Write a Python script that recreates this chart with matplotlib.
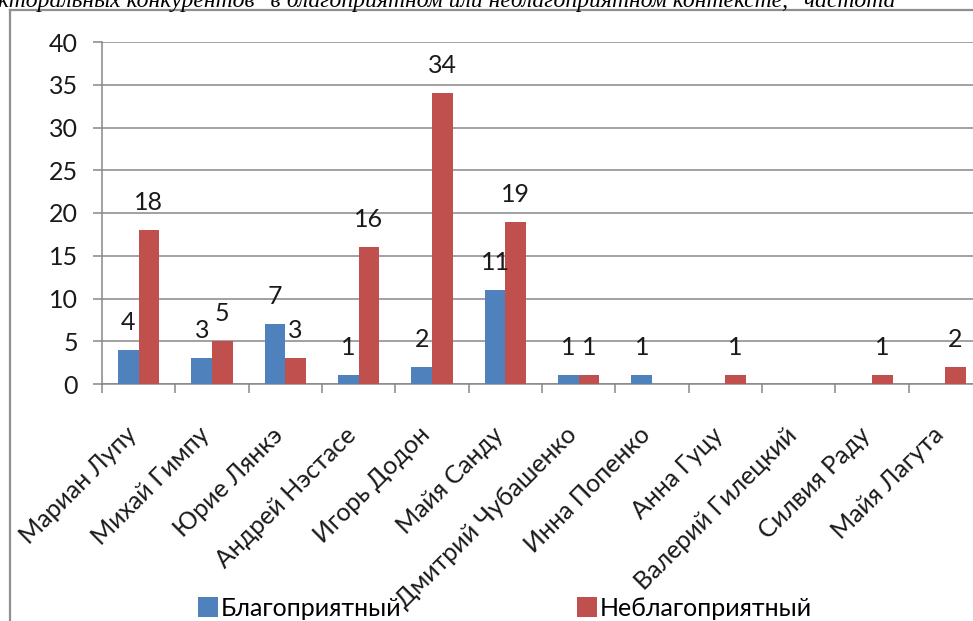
import matplotlib
matplotlib.use("Agg")
import matplotlib.pyplot as plt
import matplotlib.transforms as mtransforms
from matplotlib.patches import Patch
from matplotlib.lines import Line2D
import numpy as np

plt.rcParams.update({
    "font.family": ["Lato", "DejaVu Sans"],
    "font.size": 18,
})

candidates = ["Мариан Лупу", "Михай Гимпу", "Юрие Лянкэ", "Андрей Нэстасе",
              "Игорь Додон", "Майя Санду", "Дмитрий Чубашенко", "Инна Попенко",
              "Анна Гуцу", "Валерий Гилецкий", "Силвия Раду", "Майя Лагута"]
favorable = [4, 3, 7, 1, 2, 11, 1, 1, 0, 0, 0, 0]
unfavorable = [18, 5, 3, 16, 34, 19, 1, 0, 1, 0, 1, 2]
series_names = ["Благоприятный", "Неблагоприятный"]
title_text = ('кторальных конкурентов" в благоприятном или неблагоприятном '
              'контексте," частота')

blue = "#4F81BD"
red = "#C0504D"
grid_grey = "#878787"
txt = "#1a1a1a"

fig = plt.figure(figsize=(9.73, 6.21), dpi=100)
ax = fig.add_axes([102 / 973, 1 - 384 / 621, 880 / 973, 342 / 621])

x = np.arange(len(candidates))
w = 0.28
b1 = ax.bar(x - w / 2, favorable, w, color=blue, zorder=3)
b2 = ax.bar(x + w / 2, unfavorable, w, color=red, zorder=3)

ax.set_xlim(-0.5, len(candidates) - 0.5)
ax.set_ylim(0, 40)
ax.set_yticks(np.arange(0, 41, 5))
ax.yaxis.grid(True, color=grid_grey, linewidth=1.1, zorder=0)
ax.set_axisbelow(True)

for s in ["top", "right"]:
    ax.spines[s].set_visible(False)
for s in ["left", "bottom"]:
    ax.spines[s].set_color(grid_grey)
    ax.spines[s].set_linewidth(1.1)

ax.tick_params(axis="y", length=6.5, width=1.1, color=grid_grey, pad=11,
               labelsize=18, labelcolor=txt)
ax.set_xticks(x)
ax.set_xticklabels([])
ax.tick_params(axis="x", which="major", length=0)
ax.set_xticks(np.arange(-0.5, len(candidates), 1), minor=True)
ax.tick_params(axis="x", which="minor", length=6.5, width=1.1, color=grid_grey)

# category labels, rotated, ending under each group
off = mtransforms.ScaledTranslation(-0.14, -0.39, fig.dpi_scale_trans)
for xi, name in zip(x, candidates):
    ax.text(xi, 0, name, transform=ax.get_xaxis_transform() + off,
            rotation=45, rotation_mode="anchor", ha="right", va="top",
            fontsize=18, color=txt)

# value labels
lab_off = mtransforms.ScaledTranslation(0, 0.2, fig.dpi_scale_trans)
for bars, vals in [(b1, favorable), (b2, unfavorable)]:
    for bar, v in zip(bars, vals):
        if v == 0:
            continue
        ax.text(bar.get_x() + bar.get_width() / 2, v, str(v),
                transform=ax.transData + lab_off, ha="center", va="baseline",
                fontsize=18, color=txt)

# chart frame (cropped at right and bottom)
fig.add_artist(Line2D([9.5 / 973, 9.5 / 973], [1 - 10 / 621, -0.1],
                      color="#8f8f8f", linewidth=1.6, transform=fig.transFigure))
fig.add_artist(Line2D([9.5 / 973, 1.1], [1 - 10 / 621, 1 - 10 / 621],
                      color="#8f8f8f", linewidth=1.6, transform=fig.transFigure))

# cropped caption above (cut at the top edge as in the source)
fig.text(-0.002, 1 - 7 / 621, title_text, family="Liberation Serif",
         style="italic", fontsize=17, va="baseline", ha="left", color="black")

handles = [Patch(facecolor=blue), Patch(facecolor=red)]
fig.legend(handles, series_names, loc="lower center", ncol=2,
           bbox_to_anchor=(0.519, -0.018), frameon=False, fontsize=18,
           handlelength=0.8, handleheight=0.8, handletextpad=0.12,
           columnspacing=7.0, borderpad=0)

fig.savefig("out.png", dpi=100, facecolor="white")
plt.close(fig)
